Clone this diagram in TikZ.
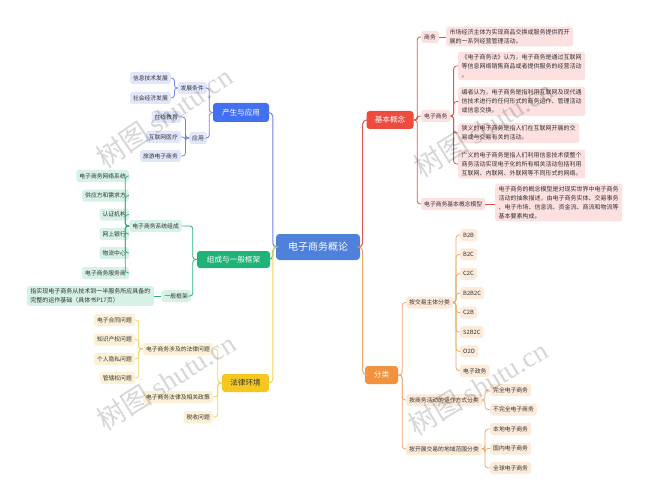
\documentclass[tikz,border=0pt]{standalone}
\usepackage{fontspec}
\setmainfont{Noto Sans CJK SC}
\newfontfamily\wmlatin{Liberation Serif}
\definecolor{txt}{HTML}{333333}
\definecolor{mainC}{HTML}{4F80DC}
\definecolor{redM}{HTML}{EC4B3D}
\definecolor{redL}{HTML}{FCE1E0}
\definecolor{redC}{HTML}{D9574B}
\definecolor{orgM}{HTML}{F0923E}
\definecolor{orgL}{HTML}{FCEADB}
\definecolor{orgC}{HTML}{E9A86A}
\definecolor{bluM}{HTML}{4370F0}
\definecolor{bluL}{HTML}{E2E6FA}
\definecolor{bluC}{HTML}{6F83E0}
\definecolor{grnM}{HTML}{20B377}
\definecolor{grnL}{HTML}{D6F1E5}
\definecolor{grnC}{HTML}{2DB07B}
\definecolor{yelM}{HTML}{F6C81F}
\definecolor{yelL}{HTML}{FCF1D6}
\definecolor{yelC}{HTML}{F1CF5C}
\tikzset{
  leaf/.style={fill=#1, rounded corners=2.5pt, inner xsep=3pt, inner ysep=0pt,
    minimum height=12pt, font=\fontsize{5.8}{8}\selectfont, text=txt},
  desc/.style={fill=#1, rounded corners=2.5pt, inner xsep=3.5pt, inner ysep=2.5pt,
    align=left, font=\fontsize{6}{9}\selectfont, text=txt},
  lvl/.style={fill=#1, rounded corners=3pt, inner sep=0pt, minimum height=18pt,
    font=\fontsize{7.6}{9}\selectfont, text=white},
  con/.style={draw=#1, line width=0.8pt, rounded corners=3pt},
  wm/.style={text=black, text opacity=0.16, font=\fontsize{28}{30}\selectfont}
}
\begin{document}
\begin{tikzpicture}[x=1pt,y=-1pt]
\useasboundingbox (0,0) rectangle (648,500);

% main
\node[fill=mainC, rounded corners=3.5pt, minimum width=84pt, minimum height=26pt,
  inner sep=0pt, text=white, font=\fontsize{10}{12}\selectfont] (m) at (318,247) {电子商务概论};

% level 1
\node[lvl=redM, minimum width=47pt] (jb) at (390,120) {基本概念};
\node[lvl=orgM, minimum width=33pt] (fl) at (381.5,375) {分类};
\node[lvl=bluM, minimum width=56pt, minimum height=19pt] (cs) at (241,112.5) {产生与应用};
\node[lvl=grnM, minimum width=73pt, minimum height=17pt] (zc) at (233.5,259.5) {组成与一般框架};
\node[lvl=yelM, text=txt, minimum width=47pt] (fz2) at (245.5,383) {法律环境};

% ---------------- 基本概念
\node[leaf=redL, anchor=west] (sw) at (421,37) {商务};
\node[desc=redL, anchor=west] (swd) at (446,36.5) {市场经济主体为实现商品交换或服务提供而开\\展的一系列经营管理活动。};
\node[leaf=redL, anchor=west] (dz) at (421,116) {电子商务};
\node[desc=redL, anchor=west] (d1) at (458,66) {《电子商务法》认为，电子商务是通过互联网\\等信息网络销售商品或者提供服务的经营活动\\。};
\node[desc=redL, anchor=west] (d2) at (458,101.5) {编者认为，电子商务是指利用互联网及现代通\\信技术进行的任何形式的商务运作、管理活动\\或信息交换。};
\node[desc=redL, anchor=west] (d3) at (458,133) {狭义的电子商务是指人们在互联网开展的交\\易或与交易有关的活动。};
\node[desc=redL, anchor=west] (d4) at (458,164) {广义的电子商务是指人们利用信息技术使整个\\商务活动实现电子化的所有相关活动包括利用\\互联网、内联网、外联网等不同形式的网络。};
\node[leaf=redL, anchor=west] (mx) at (421,204) {电子商务基本概念模型};
\node[desc=redL, anchor=west] (mxd) at (495,202.5) {电子商务的概念模型是对现实世界中电子商务\\活动的抽象描述，由电子商务实体、交易事务\\、电子市场、信息流、资金流、商流和物流等\\基本要素构成。};

% ---------------- 分类
\node[leaf=orgL, anchor=west] (jy) at (406,302.5) {按交易主体分类};
\node[leaf=orgL, anchor=west] (yz) at (406,400) {按商务活动的运作方式分类};
\node[leaf=orgL, anchor=west] (dy) at (406,449) {按开展交易的地域范围分类};
\node[leaf=orgL, anchor=west] (t1) at (460,235) {B2B};
\node[leaf=orgL, anchor=west] (t2) at (460,254.4) {B2C};
\node[leaf=orgL, anchor=west] (t3) at (460,273.8) {C2C};
\node[leaf=orgL, anchor=west] (t4) at (460,293.2) {B2B2C};
\node[leaf=orgL, anchor=west] (t5) at (460,312.6) {C2B};
\node[leaf=orgL, anchor=west] (t6) at (460,332) {S2B2C};
\node[leaf=orgL, anchor=west] (t7) at (460,351.4) {O2O};
\node[leaf=orgL, anchor=west] (t8) at (460,370.8) {电子政务};
\node[leaf=orgL, anchor=west] (y1) at (490,390) {完全电子商务};
\node[leaf=orgL, anchor=west] (y2) at (490,409.5) {不完全电子商务};
\node[leaf=orgL, anchor=west] (r1) at (490,429) {本地电子商务};
\node[leaf=orgL, anchor=west] (r2) at (490,448.5) {国内电子商务};
\node[leaf=orgL, anchor=west] (r3) at (490,468) {全球电子商务};

% ---------------- 产生与应用
\node[leaf=bluL, anchor=east] (fj) at (207,88) {发展条件};
\node[leaf=bluL, anchor=east] (yy) at (207,138) {应用};
\node[leaf=bluL, anchor=east] (f1) at (171,78) {信息技术发展};
\node[leaf=bluL, anchor=east] (f2) at (171,98) {社会经济发展};
\node[leaf=bluL, anchor=east] (a1) at (181,117) {在线教育};
\node[leaf=bluL, anchor=east] (a2) at (181,137) {互联网医疗};
\node[leaf=bluL, anchor=east] (a3) at (181,156) {旅游电子商务};

% ---------------- 组成与一般框架
\node[leaf=grnL, anchor=east] (xt) at (182,226) {电子商务系统组成};
\node[leaf=grnL, anchor=east] (kj) at (191,296) {一般框架};
\node[desc=grnL, anchor=east] (kjd) at (154,296) {指实现电子商务从技术到一半服务所应具备的\\完整的运作基础（具体书P17页）};
\node[leaf=grnL, anchor=east] (c1) at (129,176) {电子商务网络系统};
\node[leaf=grnL, anchor=east] (c2) at (129,195.5) {供应方和需求方};
\node[leaf=grnL, anchor=east] (c3) at (129,214.5) {认证机构};
\node[leaf=grnL, anchor=east] (c4) at (129,234) {网上银行};
\node[leaf=grnL, anchor=east] (c5) at (129,253) {物流中心};
\node[leaf=grnL, anchor=east] (c6) at (129,273) {电子商务服务商};

% ---------------- 法律环境
\node[leaf=yelL, anchor=east] (fw) at (213,349) {电子商务涉及的法律问题};
\node[leaf=yelL, anchor=east] (zf) at (213,397) {电子商务法律及相关政策};
\node[leaf=yelL, anchor=east] (ss) at (213,417) {税收问题};
\node[leaf=yelL, anchor=east] (w1) at (135,320) {电子合同问题};
\node[leaf=yelL, anchor=east] (w2) at (135,339.5) {知识产权问题};
\node[leaf=yelL, anchor=east] (w3) at (135,359) {个人隐私问题};
\node[leaf=yelL, anchor=east] (w4) at (135,378) {管辖权问题};

% ---------------- connectors
\draw[con=redC, line width=1pt, rounded corners=4pt] (m.east) -- ++(2.5,0) |- (jb.west);
\draw[con=orgC, line width=1pt, rounded corners=4pt] (m.east) -- ++(2.5,0) |- (fl.west);
\draw[con=bluC, line width=1pt, rounded corners=4pt] (m.west) -- ++(-3,0) |- (cs.east);
\draw[con=grnC, line width=1pt, rounded corners=4pt] (m.west) -- ++(-3,0) |- (zc.east);
\draw[con=yelC, line width=1pt, rounded corners=4pt] (m.west) -- ++(-3,0) |- (fz2.east);

\foreach \c in {sw,dz,mx} \draw[con=redC] (jb.east) -- ++(3.5,0) |- (\c.west);
\draw[con=redC] (sw.east) -- (sw.east -| swd.west);
\foreach \c in {d1,d2,d3,d4} \draw[con=redC] (dz.east) -- ++(3,0) |- (\c.west);
\draw[con=redC] (mx.east) -- (mx.east -| mxd.west);

\foreach \c in {jy,yz,dy} \draw[con=orgC] (fl.east) -- ++(4,0) |- (\c.west);
\foreach \c in {t1,t2,t3,t4,t5,t6,t7,t8} \draw[con=orgC] (jy.east) -- ++(3,0) |- (\c.west);
\foreach \c in {y1,y2} \draw[con=orgC] (yz.east) -- ++(3,0) |- (\c.west);
\foreach \c in {r1,r2,r3} \draw[con=orgC] (dy.east) -- ++(3,0) |- (\c.west);

\foreach \c in {fj,yy} \draw[con=bluC] (cs.west) -- ++(-3.5,0) |- (\c.east);
\foreach \c in {f1,f2} \draw[con=bluC] (fj.west) -- ++(-3,0) |- (\c.east);
\foreach \c in {a1,a2,a3} \draw[con=bluC] (yy.west) -- ++(-3.5,0) |- (\c.east);

\foreach \c in {xt,kj} \draw[con=grnC] (zc.west) -- ++(-4,0) |- (\c.east);
\foreach \c in {c1,c2,c3,c4,c5,c6} \draw[con=grnC] (xt.west) -- ++(-4,0) |- (\c.east);
\draw[con=grnC] (kj.west) -- (kj.west -| kjd.east);

\foreach \c in {fw,zf,ss} \draw[con=yelC] (fz2.west) -- ++(-4,0) |- (\c.east);
\foreach \c in {w1,w2,w3,w4} \draw[con=yelC] (fw.west) -- ++(-4,0) |- (\c.east);

% ---------------- watermarks
\node[wm, rotate=34] (wm1) at (164,117) {树图 {\wmlatin shutu.cn}};
\node[wm, rotate=32] (wm2) at (483,128) {树图 {\wmlatin shutu.cn}};
\node[wm, rotate=32] (wm3) at (166,381) {树图 {\wmlatin shutu.cn}};
\node[wm, rotate=31] (wm4) at (478,387) {树图 {\wmlatin shutu.cn}};
\end{tikzpicture}
\end{document}
